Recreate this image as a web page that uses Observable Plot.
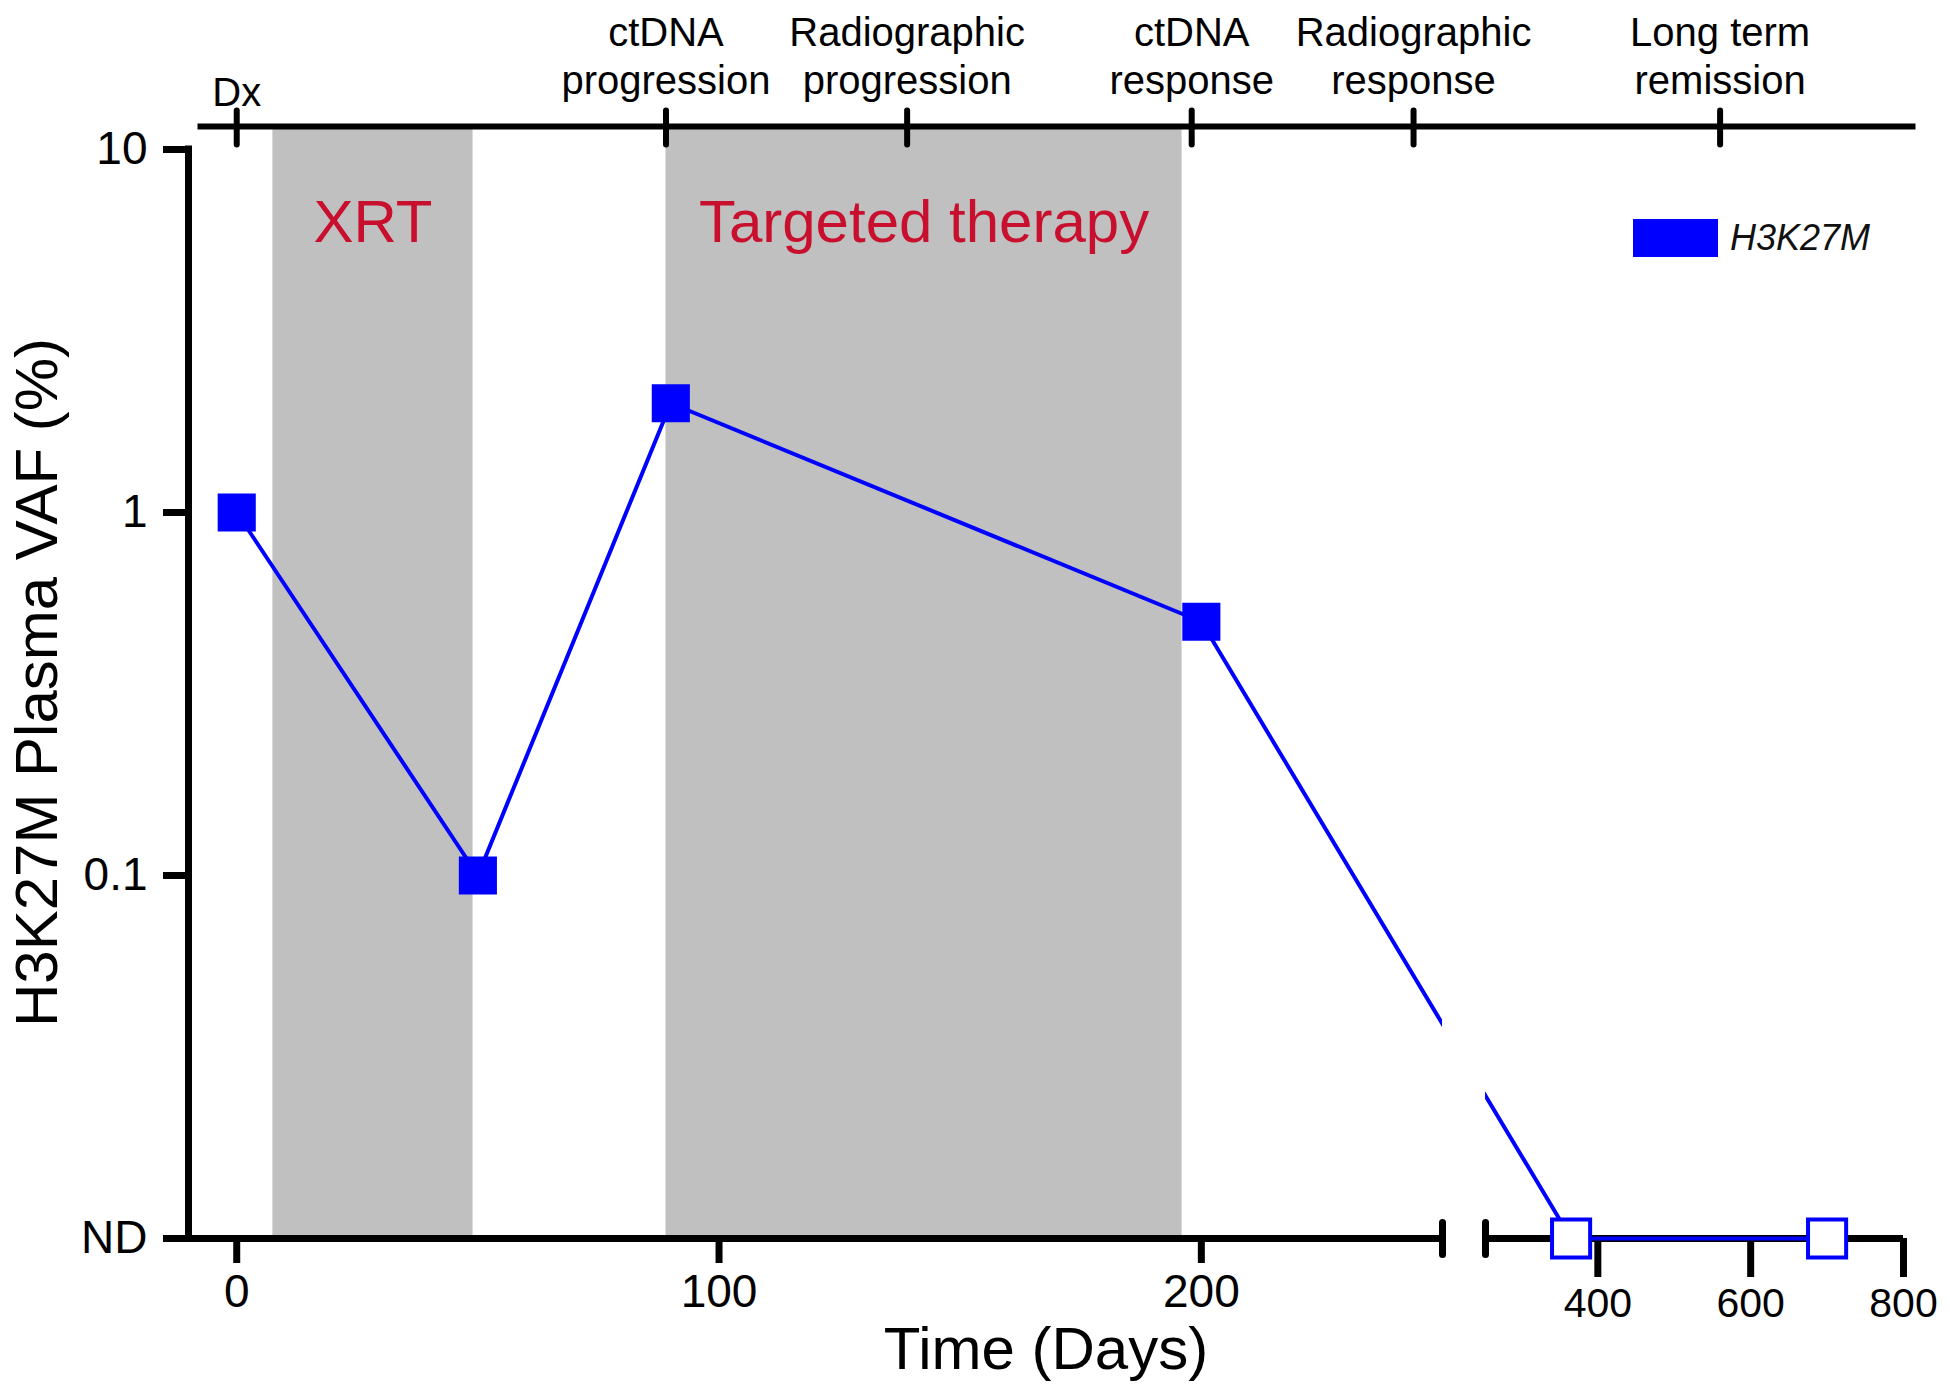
<!DOCTYPE html>
<html><head><meta charset="utf-8">
<script src="https://cdn.jsdelivr.net/npm/d3@7"></script>
<script src="https://cdn.jsdelivr.net/npm/@observablehq/plot@0.6"></script>
<style>
body{margin:0;background:#fff;}
#wrap{position:relative;width:1950px;height:1396px;font-family:"Liberation Sans",Arial,sans-serif;}
#wrap svg{display:block;}
.legend{position:absolute;left:1633px;top:219px;display:flex;align-items:center;gap:12px;height:38px;}
.swatch{width:85px;height:38px;background:#0000ff;}
.legend span{font-style:italic;font-size:36px;color:#111;}
</style></head><body><div id="wrap"></div>
<script>
// ---- data ----
const seriesName = "H3K27M";
const days = [0, 50, 90, 200, 365, 700];
const vaf = [1, 0.1, 2, 0.5, "ND", "ND"];
const treatmentNames = ["XRT", "Targeted therapy"];
const treatmentStart = [7.5, 89];
const treatmentEnd = [49, 196];
const eventDays = [0, 89, 139, 198, 244, 560];
const eventLabels = ["Dx", "ctDNA\nprogression", "Radiographic\nprogression", "ctDNA\nresponse", "Radiographic\nresponse", "Long term\nremission"];
const yTicks = [0.01, 0.1, 1, 10];
const yTickLabels = ["ND", "0.1", "1", "10"];
const xTicksEarly = [0, 100, 200];
const xTicksLate = [400, 600, 800];
const axisBreak = [250, 253];
const xStart = -10, xEnd = 800;

// ---- derived tables ----
const ndLevel = yTicks[0];
const points = days.map((d, i) => ({day: d, vaf: vaf[i] === "ND" ? ndLevel : vaf[i], detected: vaf[i] !== "ND"}));
const treatments = treatmentNames.map((n, i) => ({name: n, start: treatmentStart[i], end: treatmentEnd[i]}));
const events = eventDays.map((d, i) => ({day: d, label: eventLabels[i]}));
const segments = [{from: xStart, to: axisBreak[0]}, {from: axisBreak[1], to: xEnd}];

const blue = "#0000ff";
const red = "#c8102e";
const stick = {draw(ctx, l) { ctx.moveTo(0, 0); ctx.lineTo(0, -l); }};

const chart = Plot.plot({
  width: 1950,
  height: 1396,
  marginTop: 126,
  marginBottom: 158,
  marginLeft: 188,
  marginRight: 47,
  style: {fontFamily: "'Liberation Sans', Arial, sans-serif", background: "white", color: "black"},
  x: {type: "linear", domain: [xStart, axisBreak[0], axisBreak[1], xEnd], range: [188, 1442, 1485, 1903]},
  y: {type: "log", domain: [yTicks[0], yTicks[yTicks.length - 1]], range: [1238, 149]},
  marks: [
    Plot.rect(treatments, {x1: "start", x2: "end", fill: "#c0c0c0"}),
    Plot.ruleY(segments, {x1: "from", x2: "to", y: () => ndLevel, stroke: "black", strokeWidth: 7}),
    Plot.ruleX([xStart], {y1: () => yTicks[0], y2: () => yTicks[yTicks.length - 1], stroke: "black", strokeWidth: 7, strokeLinecap: "square"}),
    Plot.axisY(yTicks, {anchor: "left", tickSize: 25, tickPadding: 16, fontSize: 46, strokeWidth: 7, label: null,
      tickFormat: (d) => yTickLabels[yTicks.indexOf(d)]}),
    Plot.axisX(xTicksEarly, {anchor: "bottom", tickSize: 25, tickPadding: 11, fontSize: 46, strokeWidth: 7, label: null}),
    Plot.axisX(xTicksLate, {anchor: "bottom", tickSize: 39, tickPadding: 10, fontSize: 41, strokeWidth: 7, label: null}),
    Plot.line(points, {x: "day", y: "vaf", stroke: blue, strokeWidth: 4}),
    Plot.rect([axisBreak], {x1: (d) => d[0], x2: (d) => d[1], fill: "white"}),
    Plot.vector(axisBreak, {x: (d) => d, y: () => ndLevel, length: 32, anchor: "middle", rotate: 0, shape: stick, stroke: "black", strokeWidth: 7}),
    Plot.frame({anchor: "top", stroke: "black", strokeWidth: 6, insetLeft: 12, insetRight: -9}),
    Plot.vector(events, {x: "day", frameAnchor: "top", length: 34, anchor: "middle", rotate: 0, shape: stick, stroke: "black", strokeWidth: 6, dy: 1}),
    Plot.dot(points.filter((p) => p.detected), {x: "day", y: "vaf", symbol: "square", r: 21.5, fill: blue}),
    Plot.dot(points.filter((p) => !p.detected), {x: "day", y: "vaf", symbol: "square", r: 21.5, fill: "white", stroke: blue, strokeWidth: 4}),
    Plot.text(events.filter((e) => e.label.includes("\n")), {x: "day", text: "label", frameAnchor: "top", lineAnchor: "middle", textAnchor: "middle", dy: -72, fontSize: 40, lineHeight: 1.2, fill: "black"}),
    Plot.text(events.filter((e) => !e.label.includes("\n")), {x: "day", text: "label", frameAnchor: "top", lineAnchor: "middle", textAnchor: "middle", dy: -33, fontSize: 40, fill: "black"}),
    Plot.text(treatments, {x: (d) => (d.start + d.end) / 2, text: "name", frameAnchor: "top", lineAnchor: "middle", textAnchor: "middle", dy: 96, fontSize: 60, fill: red}),
    Plot.text(["Time (Days)"], {text: (d) => d, frameAnchor: "bottom", lineAnchor: "middle", textAnchor: "middle", dy: 111, fontSize: 60, fill: "black"}),
    Plot.text(["H3K27M Plasma VAF (%)"], {text: (d) => d, frameAnchor: "left", lineAnchor: "middle", textAnchor: "middle", dx: -151, rotate: -90, fontSize: 60, fill: "black"})
  ]
});
const wrap = document.getElementById("wrap");
wrap.appendChild(chart);
const legend = document.createElement("div");
legend.className = "legend";
legend.innerHTML = `<div class="swatch"></div><span></span>`;
legend.querySelector("span").textContent = seriesName;
wrap.appendChild(legend);
</script>
</body></html>
